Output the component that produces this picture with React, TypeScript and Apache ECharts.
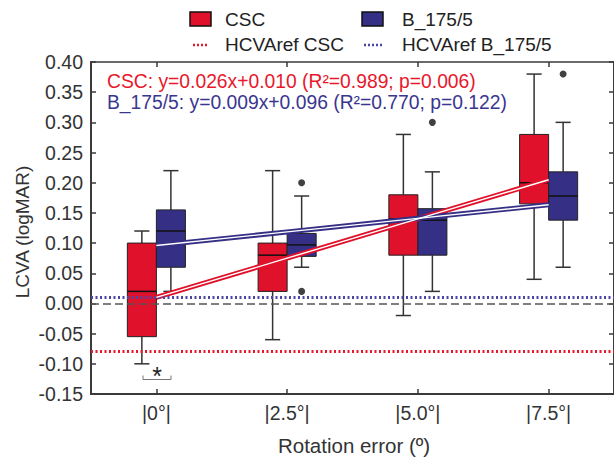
import React, { useEffect, useRef } from "react";
import * as echarts from "echarts";

const categories = ["|0°|", "|2.5°|", "|5.0°|", "|7.5°|"];
// box values: [min, Q1, median, Q3, max]
const cscBoxes = [
  [-0.10, -0.055, 0.02, 0.10, 0.12],
  [-0.06, 0.02, 0.08, 0.10, 0.22],
  [-0.02, 0.08, 0.14, 0.18, 0.28],
  [0.04, 0.165, 0.20, 0.28, 0.38],
];
const bBoxes = [
  [0.02, 0.06, 0.12, 0.155, 0.22],
  [0.06, 0.078, 0.097, 0.116, 0.178],
  [0.02, 0.08, 0.138, 0.157, 0.218],
  [0.06, 0.138, 0.178, 0.218, 0.30],
];
// outliers: [category index, value]
const bOutliers = [
  [1, 0.20],
  [1, 0.02],
  [2, 0.30],
  [3, 0.38],
];
// regression fits evaluated at 0, 2.5, 5.0, 7.5 degrees
const cscFit = [0.010, 0.075, 0.140, 0.205];
const bFit = [0.096, 0.1185, 0.141, 0.1635];
const hcvaRefCSC = -0.08;
const hcvaRefB = 0.008;
const yMin = -0.15;
const yMax = 0.4;
const yInterval = 0.05;

const RED = "#e0122b";
const BLUE = "#352f85";
const RED_TXT = "#e8182c";
const BLUE_TXT = "#3a3690";
const FONT = "'Liberation Sans', Arial, sans-serif";

const makeBoxRender = (side: number, color: string) => (params: any, api: any) => {
  const idx = api.value(0);
  const band = api.size([1, 0])[0];
  const w = band * 0.222;
  const cx = api.coord([idx, 0])[0] + (side * w) / 2;
  const py = (k: number) => api.coord([idx, api.value(k)])[1];
  const yMn = py(1), yQ1 = py(2), yMed = py(3), yQ3 = py(4), yMx = py(5);
  const cap = w * 0.52;
  const wh = { stroke: "#333", lineWidth: 1.5 };
  return {
    type: "group",
    children: [
      { type: "line", shape: { x1: cx, y1: yQ3, x2: cx, y2: yMx }, style: wh },
      { type: "line", shape: { x1: cx, y1: yQ1, x2: cx, y2: yMn }, style: wh },
      { type: "line", shape: { x1: cx - cap / 2, y1: yMx, x2: cx + cap / 2, y2: yMx }, style: wh },
      { type: "line", shape: { x1: cx - cap / 2, y1: yMn, x2: cx + cap / 2, y2: yMn }, style: wh },
      {
        type: "rect",
        shape: { x: cx - w / 2, y: yQ3, width: w, height: yQ1 - yQ3 },
        style: { fill: color, stroke: "#222", lineWidth: 1 },
      },
      {
        type: "line",
        shape: { x1: cx - w / 2, y1: yMed, x2: cx + w / 2, y2: yMed },
        style: { stroke: "#111", lineWidth: 1.5 },
      },
    ],
  };
};

export default function App() {
  const ref = useRef<HTMLDivElement>(null);
  useEffect(() => {
    document.body.style.margin = "0";
    const chart = echarts.init(ref.current!, null, { renderer: "svg" });
    const axisLine = { show: true, onZero: false, lineStyle: { color: "#3a3a3a", width: 2 } };
    const tick = { show: true, inside: true, length: 5, lineStyle: { color: "#3a3a3a", width: 1.5 } };
    const option: any = {
      animation: false,
      backgroundColor: "#ffffff",
      grid: { left: 91, top: 62, right: -3, bottom: 63, containLabel: false },
      xAxis: [
        {
          type: "category",
          data: categories,
          position: "bottom",
          axisLine,
          axisTick: { ...tick, alignWithLabel: true },
          axisLabel: { color: "#333", fontSize: 19.5, fontFamily: FONT, margin: 9 },
          splitLine: { show: false },
        },
        {
          type: "category",
          data: categories,
          position: "top",
          axisLine: { show: true, onZero: false, lineStyle: { color: "#3a3a3a", width: 1.5 } },
          axisTick: { ...tick, alignWithLabel: true },
          axisLabel: { show: false },
          splitLine: { show: false },
        },
      ],
      yAxis: [
        {
          type: "value",
          min: yMin,
          max: yMax,
          interval: yInterval,
          position: "left",
          axisLine,
          axisTick: tick,
          axisLabel: {
            color: "#333",
            fontSize: 19.5,
            fontFamily: FONT,
            margin: 8,
            formatter: (v: number) => v.toFixed(2),
          },
          splitLine: { show: false },
        },
        {
          type: "value",
          min: yMin,
          max: yMax,
          interval: yInterval,
          position: "right",
          axisLine,
          axisTick: tick,
          axisLabel: { show: false },
          splitLine: { show: false },
        },
      ],
      series: [
        {
          name: "CSC",
          type: "custom",
          renderItem: makeBoxRender(-1, RED),
          encode: { x: 0, y: [1, 2, 3, 4, 5] },
          data: cscBoxes.map((b, i) => [i, ...b]),
          z: 2,
          silent: true,
        },
        {
          name: "B_175/5",
          type: "custom",
          renderItem: makeBoxRender(1, BLUE),
          encode: { x: 0, y: [1, 2, 3, 4, 5] },
          data: bBoxes.map((b, i) => [i, ...b]),
          z: 2,
          silent: true,
        },
        {
          name: "B_175/5 outliers",
          type: "scatter",
          data: bOutliers,
          symbol: "circle",
          symbolSize: 7,
          symbolOffset: [14.5, 0],
          itemStyle: { color: "#111" },
          z: 3,
          silent: true,
        },
        {
          name: "CSC fit",
          type: "line",
          data: cscFit,
          symbol: "none",
          lineStyle: { color: RED, width: 5 },
          z: 4,
          silent: true,
          markLine: {
            silent: true,
            symbol: ["none", "none"],
            label: { show: false },
            data: [
              { yAxis: hcvaRefCSC, lineStyle: { color: "#e8182c", width: 3, type: [2, 2.5] } },
              { yAxis: 0, lineStyle: { color: "#555", width: 1.5, type: [8, 4] } },
            ],
          },
        },
        {
          name: "CSC fit hl",
          type: "line",
          data: cscFit,
          symbol: "none",
          lineStyle: { color: "#ffffff", width: 1.4 },
          z: 5,
          silent: true,
        },
        {
          name: "B fit",
          type: "line",
          data: bFit,
          symbol: "none",
          lineStyle: { color: BLUE, width: 5 },
          z: 4,
          silent: true,
          markLine: {
            silent: true,
            symbol: ["none", "none"],
            label: { show: false },
            data: [{ yAxis: hcvaRefB, lineStyle: { color: "#4a46a8", width: 3, type: [2, 2.5] } }],
          },
        },
        {
          name: "B fit hl",
          type: "line",
          data: bFit,
          symbol: "none",
          lineStyle: { color: "#ffffff", width: 1.4 },
          z: 5,
          silent: true,
        },
      ],
      graphic: [
        // legend
        { type: "rect", shape: { x: 190, y: 12, width: 21, height: 14 }, style: { fill: RED, stroke: "#111", lineWidth: 1.5 } },
        { type: "text", x: 225, y: 19, style: { text: "CSC", fontSize: 19, fontFamily: FONT, fill: "#222", verticalAlign: "middle" } },
        { type: "rect", shape: { x: 362, y: 12, width: 21, height: 14 }, style: { fill: BLUE, stroke: "#111", lineWidth: 1.5 } },
        { type: "text", x: 402, y: 19, style: { text: "B_175/5", fontSize: 19, fontFamily: FONT, fill: "#222", verticalAlign: "middle" } },
        { type: "line", shape: { x1: 193, y1: 45, x2: 208, y2: 45 }, style: { stroke: "#e8182c", lineWidth: 2.5, lineDash: [2, 2] } },
        { type: "text", x: 225, y: 44, style: { text: "HCVAref CSC", fontSize: 19, fontFamily: FONT, fill: "#222", verticalAlign: "middle" } },
        { type: "line", shape: { x1: 364, y1: 45, x2: 383, y2: 45 }, style: { stroke: "#4a46a8", lineWidth: 2.5, lineDash: [2, 2] } },
        { type: "text", x: 402, y: 44, style: { text: "HCVAref B_175/5", fontSize: 19, fontFamily: FONT, fill: "#222", verticalAlign: "middle" } },
        // regression equations
        { type: "text", x: 107, y: 81, z: 10, style: { text: "CSC: y=0.026x+0.010 (R²=0.989; p=0.006)", fontSize: 19.3, fontFamily: FONT, fill: RED_TXT, verticalAlign: "middle" } },
        { type: "text", x: 107, y: 102, z: 10, style: { text: "B_175/5: y=0.009x+0.096 (R²=0.770; p=0.122)", fontSize: 19.3, fontFamily: FONT, fill: BLUE_TXT, verticalAlign: "middle" } },
        // significance marker
        { type: "text", x: 157, y: 376, z: 10, style: { text: "*", fontSize: 25, fontFamily: FONT, fill: "#222", align: "center", verticalAlign: "middle" } },
        { type: "polyline", z: 10, shape: { points: [[143, 375.5], [143, 379.5], [171, 379.5], [171, 375.5]] }, style: { stroke: "#777", lineWidth: 1, fill: "none" } },
        // axis titles
        { type: "text", x: 354, y: 445.5, style: { text: "Rotation error (º)", fontSize: 20.5, fontFamily: FONT, fill: "#333", align: "center", verticalAlign: "middle" } },
        { type: "text", x: 22, y: 232, rotation: Math.PI / 2, style: { text: "LCVA (logMAR)", fontSize: 19, fontFamily: FONT, fill: "#333", align: "center", verticalAlign: "middle" } },
      ],
    };
    chart.setOption(option);
    return () => chart.dispose();
  }, []);
  return <div ref={ref} style={{ width: 614, height: 457, position: "absolute", left: 0, top: 0 }} />;
}
